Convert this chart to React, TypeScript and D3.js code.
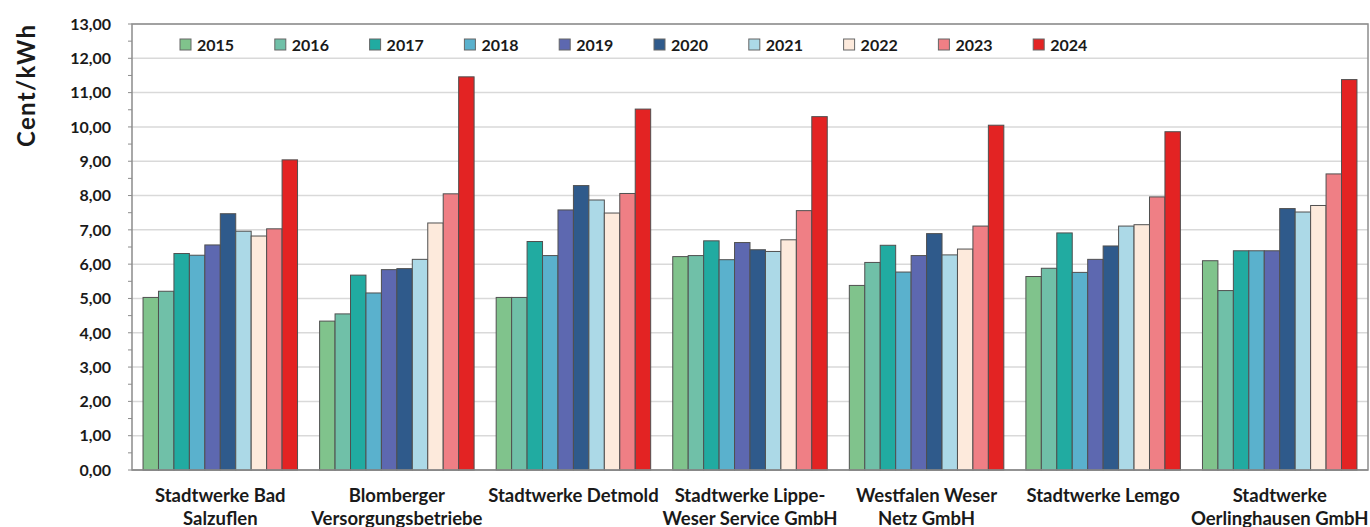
import React from "react";
import * as d3 from "d3";

const categories: string[][] = [
  ["Stadtwerke Bad", "Salzuflen"],
  ["Blomberger", "Versorgungsbetriebe"],
  ["Stadtwerke Detmold"],
  ["Stadtwerke Lippe-", "Weser Service GmbH"],
  ["Westfalen Weser", "Netz GmbH"],
  ["Stadtwerke Lemgo"],
  ["Stadtwerke", "Oerlinghausen GmbH"],
];

const years = ["2015", "2016", "2017", "2018", "2019", "2020", "2021", "2022", "2023", "2024"];

const colors = [
  "#80c38c", "#70c0a8", "#21aba1", "#5ab1cd", "#5d68b0",
  "#2f5a8b", "#acd9e7", "#fdeadc", "#ef7f85", "#e32323",
];

// values per category, one per year 2015..2024
const badSalzuflen = [5.03, 5.21, 6.31, 6.26, 6.56, 7.47, 6.96, 6.82, 7.03, 9.04];
const blomberger = [4.34, 4.55, 5.68, 5.16, 5.84, 5.87, 6.14, 7.2, 8.05, 11.46];
const detmold = [5.03, 5.03, 6.66, 6.25, 7.58, 8.29, 7.87, 7.49, 8.06, 10.52];
const lippeWeser = [6.22, 6.25, 6.68, 6.13, 6.63, 6.42, 6.37, 6.71, 7.56, 10.3];
const westfalenWeser = [5.38, 6.05, 6.55, 5.77, 6.25, 6.89, 6.27, 6.44, 7.11, 10.05];
const lemgo = [5.64, 5.88, 6.91, 5.76, 6.14, 6.53, 7.11, 7.15, 7.96, 9.86];
const oerlinghausen = [6.1, 5.23, 6.39, 6.39, 6.39, 7.62, 7.52, 7.71, 8.63, 11.38];

const seriesByCategory = [badSalzuflen, blomberger, detmold, lippeWeser, westfalenWeser, lemgo, oerlinghausen];

const yTicks = d3.range(0, 13.01, 1);
const yMinorTicks = d3.range(0, 13.01, 0.5);

const W = 1370;
const H = 527;
const left = 132;
const right = 1368;
const top = 24;
const bottom = 470;

const FONT = "Lato, 'Open Sans', sans-serif";

export default function App() {
  const x0 = d3
    .scaleBand<number>()
    .domain(d3.range(categories.length))
    .range([left, right])
    .paddingInner(0.125)
    .paddingOuter(0.0625);
  const x1 = d3.scaleBand<string>().domain(years).range([0, x0.bandwidth()]).padding(0);
  const y = d3.scaleLinear().domain([0, 13]).range([bottom, top]);
  const fmt = (v: number) => v.toFixed(2).replace(".", ",");

  return (
    <svg
      width={W}
      height={H}
      style={{ position: "absolute", left: 0, top: 0, background: "#fff" }}
      fontFamily={FONT}
    >
      {/* gridlines */}
      {yTicks.slice(1).map((t) => (
        <line key={"g" + t} x1={left} x2={right} y1={y(t)} y2={y(t)} stroke="#d9d9d9" strokeWidth={1.5} />
      ))}
      {/* plot border */}
      <rect x={left} y={top} width={right - left} height={bottom - top} fill="none" stroke="#8c8c8c" strokeWidth={1.5} />
      {/* minor ticks */}
      {yMinorTicks.map((t) => (
        <line key={"t" + t} x1={left - 4} x2={left} y1={y(t)} y2={y(t)} stroke="#8c8c8c" strokeWidth={1} />
      ))}
      {/* y tick labels */}
      {yTicks.map((t) => (
        <text
          key={"l" + t}
          x={111}
          y={y(t)}
          dy="0.36em"
          textAnchor="end"
          fontSize={16}
          fontWeight="bold"
          fill="#1a1a1a"
        >
          {fmt(t)}
        </text>
      ))}
      {/* y title */}
      <text
        transform={`translate(35,${86}) rotate(-90)`}
        textAnchor="middle"
        fontSize={24}
        fontWeight="bold"
        fill="#1a1a1a"
        textLength={122}
        lengthAdjust="spacing"
      >
        Cent/kWh
      </text>
      {/* bars */}
      {seriesByCategory.map((vals, ci) => (
        <g key={"c" + ci} transform={`translate(${x0(ci)},0)`}>
          {vals.map((v, yi) => (
            <rect
              key={yi}
              x={x1(years[yi])}
              y={y(v)}
              width={x1.bandwidth()}
              height={y(0) - y(v)}
              fill={colors[yi]}
              stroke="#505050"
              strokeWidth={1}
            />
          ))}
        </g>
      ))}
      {/* bottom axis line */}
      <line x1={left} x2={right} y1={bottom} y2={bottom} stroke="#8c8c8c" strokeWidth={1.5} />
      {/* category labels */}
      {categories.map((lines, ci) => (
        <text
          key={"x" + ci}
          x={(x0(ci) as number) + x0.bandwidth() / 2}
          y={502}
          textAnchor="middle"
          fontSize={18.5}
          fontWeight="bold"
          fill="#1a1a1a"
        >
          {lines.map((ln, li) => (
            <tspan key={li} x={(x0(ci) as number) + x0.bandwidth() / 2} dy={li === 0 ? 0 : 22.5}>
              {ln}
            </tspan>
          ))}
        </text>
      ))}
      {/* legend */}
      {years.map((yr, i) => {
        const lx = 180 + i * 94.8;
        return (
          <g key={"lg" + yr} transform={`translate(${lx},39)`}>
            <rect x={0} y={0} width={11} height={11} fill={colors[i]} stroke="#666" strokeWidth={1} />
            <text x={17} y={11.5} fontSize={16} fontWeight="bold" fill="#1a1a1a">
              {yr}
            </text>
          </g>
        );
      })}
    </svg>
  );
}
